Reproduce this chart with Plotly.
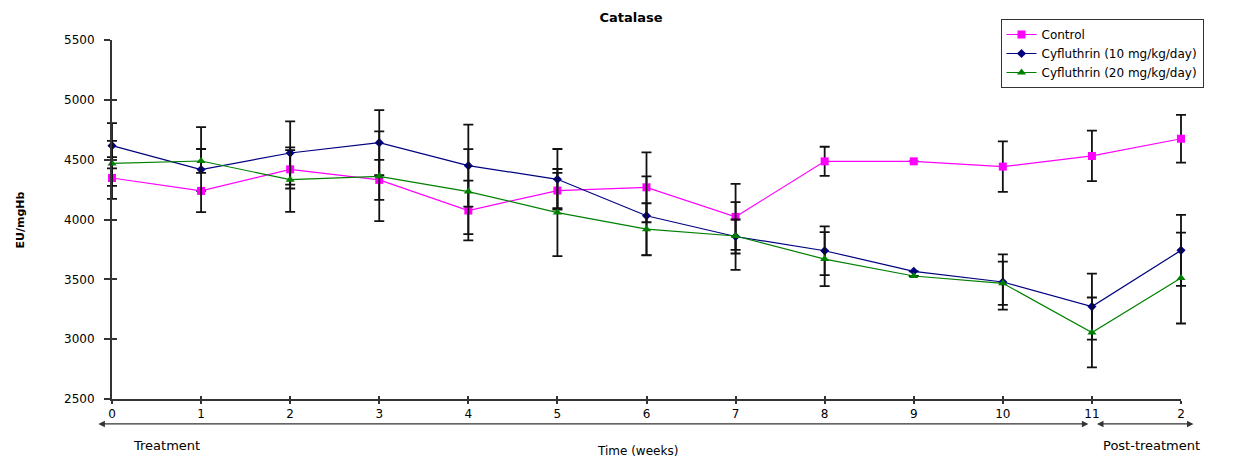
import plotly.graph_objects as go

# ---- data ----
weeks = list(range(13))
tick_labels = ["0", "1", "2", "3", "4", "5", "6", "7", "8", "9", "10", "11", "2"]

control = [4347, 4239, 4419, 4331, 4075, 4242, 4269, 4022, 4486, 4486, 4442, 4531, 4675]
control_err = [175, None, 160, 167, 250, 148, 292, 275, 122, None, 211, 211, 200]

cyf10 = [4617, 4417, 4556, 4642, 4450, 4336, 4031, 3858, 3739, 3567, 3478, 3272, 3742]
cyf10_err = [189, 355, 264, 272, 342, 253, 330, 142, 203, None, 231, 275, 297]

cyf20 = [4469, 4489, 4333, 4361, 4233, 4058, 3919, 3862, 3669, 3528, 3467, 3056, 3511]
cyf20_err = [188, 100, 270, 375, 355, 364, 217, 283, 225, None, 181, 292, 380]

FONT = "DejaVu Sans"
ERR = dict(type="data", color="#111111", thickness=1.8, width=5)
AX = "#333333"

# ---- geometry (page has an 8px body margin) ----
W, H = 1231, 455
PAD = 6                      # extra room so end error bars are not clipped
plot_l, plot_r = 112, 1181   # visible axis extent (page pixels)
plot_t, plot_b = 39, 399
data_l, data_r = plot_l - PAD, plot_r + PAD
px_per_unit = (plot_r - plot_l) / 12
ext = PAD / px_per_unit
d = PAD / (data_r - data_l)

fig = go.Figure()

# empty traces so the display / overlay axes are drawn (added first -> drawn below)
fig.add_trace(go.Scatter(x=[None], y=[None], xaxis="x2", yaxis="y2",
                         showlegend=False, hoverinfo="skip"))
fig.add_trace(go.Scatter(x=[None], y=[None], xaxis="x3", yaxis="y",
                         showlegend=False, hoverinfo="skip"))

fig.add_trace(go.Scatter(
    x=weeks, y=control, name="Control", mode="lines+markers",
    line=dict(color="#FF00FF", width=1.2),
    marker=dict(symbol="square", size=8, color="#FF00FF"),
    error_y=dict(array=control_err, **ERR), cliponaxis=False))

fig.add_trace(go.Scatter(
    x=weeks, y=cyf10, name="Cyfluthrin (10 mg/kg/day)", mode="lines+markers",
    line=dict(color="#000080", width=1.2),
    marker=dict(symbol="diamond", size=7, color="#000080"),
    error_y=dict(array=cyf10_err, **ERR), cliponaxis=False))

fig.add_trace(go.Scatter(
    x=weeks, y=cyf20, name="Cyfluthrin (20 mg/kg/day)", mode="lines+markers",
    line=dict(color="#008000", width=1.2),
    marker=dict(symbol="triangle-up", size=8, color="#008000"),
    error_y=dict(array=cyf20_err, **ERR), cliponaxis=False))

nogrid = dict(showgrid=False, zeroline=False)


def px_to_paper_y(py):
    return (plot_b - py) / (plot_b - plot_t)


def px_to_paper_x(px):
    return (px - data_l) / (data_r - data_l)


fig.update_layout(
    width=W, height=H,
    margin=dict(l=data_l - 8, r=W + 8 - data_r, t=plot_t - 8, b=H + 8 - plot_b),
    paper_bgcolor="white", plot_bgcolor="rgba(0,0,0,0)",
    font=dict(family=FONT, size=12, color="black"),
    title=dict(text="<b>Catalase</b>", x=px_to_paper_x(631),
               xref="paper", xanchor="center",
               y=1 - (17 - 8) / H, yanchor="middle", font=dict(size=13, family=FONT)),
    showlegend=True,
    legend=dict(x=px_to_paper_x(1102), y=px_to_paper_y(53.5),
                xanchor="center", yanchor="middle",
                bordercolor=AX, borderwidth=1, bgcolor="white",
                font=dict(size=12, family=FONT), tracegroupgap=0),
    # data axis (invisible, slightly wider so end error bars are not clipped)
    xaxis=dict(domain=[0, 1], range=[-ext, 12 + ext], visible=False, anchor="y", **nogrid),
    yaxis=dict(range=[2500, 5500], dtick=500, showline=True, linecolor=AX,
               linewidth=2, ticks="outside", ticklen=6, tickwidth=2,
               tickcolor=AX, tickfont=dict(size=12), ticklabelstandoff=7,
               anchor="x2", **nogrid),
    # displayed x axis
    xaxis2=dict(domain=[d, 1 - d], range=[0, 12], tickmode="array", tickvals=weeks,
                ticktext=tick_labels, showline=True, linecolor=AX, linewidth=2,
                ticks="outside", ticklen=3, tickwidth=2, tickcolor=AX,
                tickfont=dict(size=12), anchor="y", **nogrid),
    # inner halves of the crossing ticks
    yaxis2=dict(overlaying="y", range=[2500, 5500], dtick=500, showticklabels=False,
                showline=False, ticks="inside", ticklen=5, tickwidth=2,
                tickcolor=AX, anchor="x2", **nogrid),
    xaxis3=dict(overlaying="x2", range=[0, 12], tickmode="array", tickvals=weeks,
                showticklabels=False, showline=False, ticks="inside", ticklen=3,
                tickwidth=2, tickcolor=AX, anchor="y", **nogrid),
)

# y-axis title
fig.add_annotation(x=px_to_paper_x(20), y=px_to_paper_y(220), xref="paper", yref="paper",
                   text="<b>EU/mgHb</b>", textangle=-90, showarrow=False,
                   font=dict(size=11, family=FONT), xanchor="center", yanchor="middle")

# Treatment / post-treatment arrows below the x axis
arrow_y = px_to_paper_y(424)
arrow_common = dict(xref="x", yref="paper", axref="x", ayref="pixel", ay=0, text="",
                    showarrow=True, arrowhead=2, startarrowhead=2, arrowside="end+start",
                    arrowsize=1, arrowwidth=1.3, arrowcolor=AX)
fig.add_annotation(x=10.96, y=arrow_y, ax=-0.17, **arrow_common)
fig.add_annotation(x=12.14, y=arrow_y, ax=11.04, **arrow_common)

label_y = px_to_paper_y(446)
fig.add_annotation(x=px_to_paper_x(166), y=label_y, xref="paper", yref="paper",
                   text="Treatment", showarrow=False, font=dict(size=13, family=FONT),
                   xanchor="center", yanchor="middle")
fig.add_annotation(x=px_to_paper_x(1151), y=label_y, xref="paper", yref="paper",
                   text="Post-treatment", showarrow=False, font=dict(size=13, family=FONT),
                   xanchor="center", yanchor="middle")
fig.add_annotation(x=px_to_paper_x(637), y=px_to_paper_y(451), xref="paper", yref="paper",
                   text="Time (weeks)", showarrow=False,
                   font=dict(size=12, family=FONT), xanchor="center", yanchor="middle")

fig.write_html("out.html")
